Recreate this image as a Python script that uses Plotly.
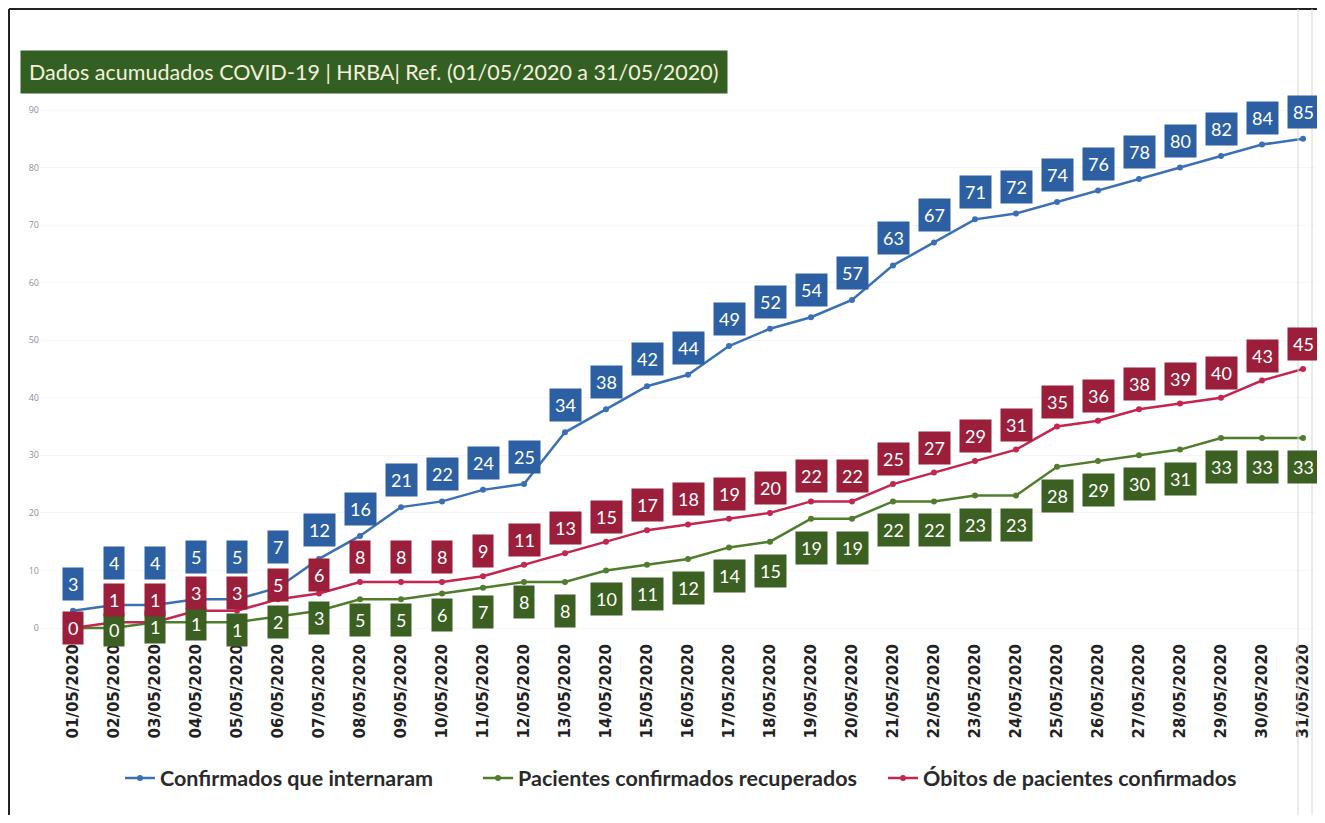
import plotly.graph_objects as go

dates = [f"{d:02d}/05/2020" for d in range(1, 32)]
confirmados = [3, 4, 4, 5, 5, 7, 12, 16, 21, 22, 24, 25, 34, 38, 42, 44, 49, 52, 54, 57,
               63, 67, 71, 72, 74, 76, 78, 80, 82, 84, 85]
recuperados = [0, 0, 1, 1, 1, 2, 3, 5, 5, 6, 7, 8, 8, 10, 11, 12, 14, 15, 19, 19,
               22, 22, 23, 23, 28, 29, 30, 31, 33, 33, 33]
obitos = [0, 1, 1, 3, 3, 5, 6, 8, 8, 8, 9, 11, 13, 15, 17, 18, 19, 20, 22, 22,
          25, 27, 29, 31, 35, 36, 38, 39, 40, 43, 45]
y_ticks = [0, 10, 20, 30, 40, 50, 60, 70, 80, 90]

names = ["Confirmados que internaram", "Pacientes confirmados recuperados",
         "Óbitos de pacientes confirmados"]
line_colors = ["#3a70b6", "#4f7d2c", "#c42650"]
label_colors = ["#2d5fa3", "#3b6022", "#9b1f3a"]

# label offsets (pixels) for the first points, where labels were moved by hand
blue_shift_start = [27, 42, 42, 42, 42, 41, 29]
red_shift_start = [0, 22, 22, 18, 18, 14, 18]
green_shift_start = [None, -2, -5, -2, -8, -6, -7, -21, -21, -22, -24, -20]
BLUE_SHIFT, RED_SHIFT, GREEN_SHIFT = 27, 25, -29

OFF = 8  # default body margin of the page
W, H = 1325 - 2 * OFF, 823 - 2 * OFF
PL, PR, PT, PB = 40, 1317, 100, 640  # plot area, screen pixels
L, R, T, B = PL - OFF, (W + OFF) - PR, PT - OFF, (H + OFF) - PB
pw, ph = W - L - R, H - T - B
xs = list(range(len(dates)))

FONT = "Lato, Open Sans, sans-serif"


def px_x(p):
    return (p - PL) / pw


def px_y(p):
    return (PB - p) / ph


fig = go.Figure()
legend_ids = ["legend", "legend2", "legend3"]
for name, vals, col, lg in zip(names, [confirmados, recuperados, obitos], line_colors, legend_ids):
    fig.add_trace(go.Scatter(x=xs, y=vals, mode="lines+markers", name=name,
                             line=dict(color=col, width=2.5),
                             marker=dict(color=col, size=6), legend=lg))

ann = []


def label(i, v, shift, color):
    ann.append(dict(x=i, y=v, xref="x", yref="y", text=str(v), showarrow=False,
                    yshift=shift, bgcolor=color, borderpad=5,
                    font=dict(color="white", size=18, family=FONT)))


for i, v in enumerate(confirmados):
    s = blue_shift_start[i] if i < len(blue_shift_start) else BLUE_SHIFT
    label(i, v, s, label_colors[0])
for i, v in enumerate(recuperados):
    s = green_shift_start[i] if i < len(green_shift_start) else GREEN_SHIFT
    if s is None:
        continue
    label(i, v, s, label_colors[1])
for i, v in enumerate(obitos):
    s = red_shift_start[i] if i < len(red_shift_start) else RED_SHIFT
    label(i, v, s, label_colors[2])

ann.append(dict(x=px_x(20), y=px_y(50), xref="paper", yref="paper",
                xanchor="left", yanchor="top", showarrow=False,
                text="Dados acumudados COVID-19 | HRBA| Ref. (01/05/2020 a 31/05/2020)",
                bgcolor="#335f22", borderpad=8,
                font=dict(color="#f3f1dc", size=21.5, family=FONT)))

shapes = [
    dict(type="line", xref="paper", yref="paper", x0=px_x(9), x1=px_x(9),
         y0=px_y(9), y1=px_y(830), line=dict(color="#222", width=2)),
    dict(type="line", xref="paper", yref="paper", x0=px_x(9), x1=px_x(1330),
         y0=px_y(9), y1=px_y(9), line=dict(color="#222", width=2)),
    dict(type="line", xref="paper", yref="paper", x0=px_x(1298), x1=px_x(1298),
         y0=px_y(9), y1=px_y(830), line=dict(color="#d8d8d8", width=1)),
    dict(type="line", xref="paper", yref="paper", x0=px_x(1312), x1=px_x(1312),
         y0=px_y(9), y1=px_y(830), line=dict(color="#d8d8d8", width=1)),
]

x0px, x30px = 73, 1303
sx = (x30px - x0px) / 30
y0px, y90px = 628, 110
sy = (y0px - y90px) / 90

legend_font = dict(family=FONT, size=21.5, color="#2a2a2a", weight="bold")
legend_x = [120, 478, 883]


def legend_cfg(xp):
    return dict(orientation="h", x=px_x(xp), y=px_y(778), xanchor="left",
                yanchor="middle", font=legend_font, itemwidth=30,
                bgcolor="rgba(0,0,0,0)")


fig.update_layout(
    width=W, height=H,
    margin=dict(l=L, r=R, t=T, b=B, autoexpand=False),
    paper_bgcolor="white", plot_bgcolor="white",
    xaxis=dict(range=[-(x0px - PL) / sx, 30 + (PR - x30px) / sx],
               tickvals=xs, ticktext=[f"<b>{d}</b>" for d in dates], tickangle=-90,
               tickfont=dict(family="DejaVu Sans", size=15, color="#222"),
               showgrid=False, zeroline=False, showline=False, ticks="",
               automargin=False),
    yaxis=dict(range=[-(PB - y0px) / sy, (y0px - PT) / sy],
               tickvals=y_ticks, tickfont=dict(size=9, color="#9090a0"),
               showgrid=True, gridcolor="#f6f6f6", zeroline=False, showline=False,
               ticks="", automargin=False),
    legend=legend_cfg(legend_x[0]),
    legend2=legend_cfg(legend_x[1]),
    legend3=legend_cfg(legend_x[2]),
    annotations=ann,
    shapes=shapes,
    showlegend=True,
)
fig.write_html("out.html")
